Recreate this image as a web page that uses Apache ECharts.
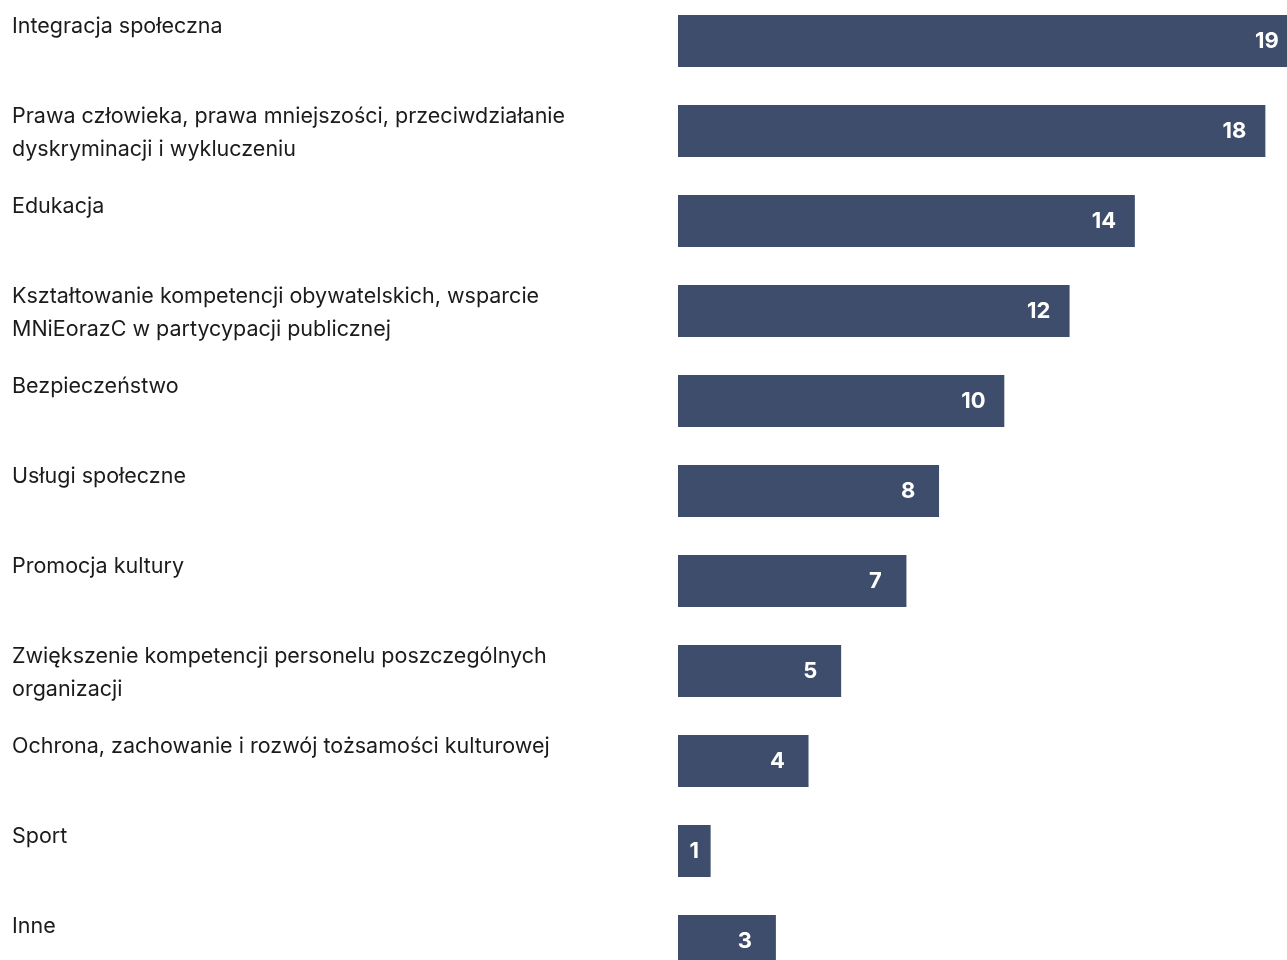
<!DOCTYPE html>
<html>
<head>
<meta charset="utf-8">
<script src="https://cdn.jsdelivr.net/npm/echarts@6/dist/echarts.min.js"></script>
<style>
  html, body { margin: 0; padding: 0; background: #ffffff; }
  #chart { width: 1287px; height: 960px; }
</style>
</head>
<body>
<div id="chart"></div>
<script>
// Obszary działań i liczba wskazań
const categories = [
  'Integracja społeczna',
  'Prawa człowieka, prawa mniejszości, przeciwdziałanie\ndyskryminacji i wykluczeniu',
  'Edukacja',
  'Kształtowanie kompetencji obywatelskich, wsparcie\nMNiEorazC w partycypacji publicznej',
  'Bezpieczeństwo',
  'Usługi społeczne',
  'Promocja kultury',
  'Zwiększenie kompetencji personelu poszczególnych\norganizacji',
  'Ochrona, zachowanie i rozwój tożsamości kulturowej',
  'Sport',
  'Inne'
];
const counts = [19, 18, 14, 12, 10, 8, 7, 5, 4, 1, 3];

const FONT = 'Inter, "Noto Sans", sans-serif';

const chart = echarts.init(document.getElementById('chart'));

// Narrow bars get their value centred in the bar instead of near the end
const barData = counts.map(v => v < 2
  ? { value: v, label: { position: 'inside', align: 'center' } }
  : v);

chart.setOption({
  animation: false,
  backgroundColor: '#ffffff',
  grid: {
    left: 678, top: -4, width: 620, height: 990,
    containLabel: false,
    outerBoundsMode: 'none'
  },
  xAxis: {
    type: 'value',
    min: 0,
    max: 19,
    show: false
  },
  yAxis: {
    type: 'category',
    data: categories,
    inverse: true,
    axisLine: { show: false },
    axisTick: { show: false },
    splitLine: { show: false },
    axisLabel: {
      margin: 666,
      align: 'left',
      verticalAlign: 'top',
      padding: [-31, 0, 0, 0],
      color: '#1b1b1b',
      fontFamily: FONT,
      fontSize: 21.5,
      lineHeight: 33
    }
  },
  series: [{
    type: 'bar',
    data: barData,
    barWidth: 52,
    itemStyle: { color: '#3e4d6b' },
    label: {
      show: true,
      position: 'insideRight',
      distance: 31,
      align: 'center',
      color: '#ffffff',
      fontFamily: FONT,
      fontWeight: 'bold',
      fontSize: 22
    }
  }]
});
</script>
</body>
</html>
